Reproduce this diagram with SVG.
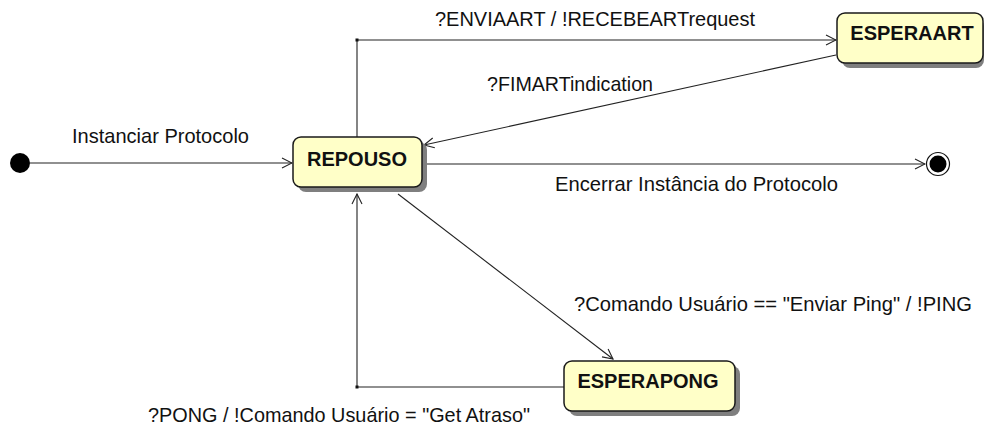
<svg xmlns="http://www.w3.org/2000/svg" width="988" height="427" viewBox="0 0 988 427">
<defs>
<marker id="open" viewBox="0 0 12 12" refX="11" refY="6" markerWidth="12" markerHeight="12" markerUnits="userSpaceOnUse" orient="auto">
<polyline points="1,1 11,6 1,11" fill="none" stroke="#222" stroke-width="1.1"/>
</marker>
</defs>
<style>
.box{fill:#ffffc8;stroke:#1a1a1a;stroke-width:1.5}
.shadow{fill:#7f7f7f}
.name{font-family:"Liberation Sans",Arial,sans-serif;font-weight:bold;font-size:20px;fill:#111;text-anchor:middle}
.lbl{font-family:"Liberation Sans",Arial,sans-serif;font-size:19.8px;fill:#111}
.edge{fill:none;stroke:#222;stroke-width:1.1}
</style>
<rect width="988" height="427" fill="#fff"/>
<g id="connectors">
<line class="edge" x1="30" y1="163" x2="292" y2="163" marker-end="url(#open)"/>
<polyline class="edge" points="357,137 357,40 836,40" marker-end="url(#open)"/>
<rect x="355.5" y="38.5" width="3" height="3" fill="#111"/>
<line class="edge" x1="836" y1="55" x2="424" y2="145" marker-end="url(#open)"/>
<line class="edge" x1="422" y1="164" x2="925" y2="164" marker-end="url(#open)"/>
<line class="edge" x1="398" y1="194" x2="613" y2="359" marker-end="url(#open)"/>
<polyline class="edge" points="564,387 357,387 357,194" marker-end="url(#open)"/>
<rect x="355.5" y="385.5" width="3" height="3" fill="#111"/>
<text class="lbl" x="72" y="143" textLength="177" lengthAdjust="spacingAndGlyphs">Instanciar Protocolo</text>
<text class="lbl" x="435" y="26" textLength="320" lengthAdjust="spacingAndGlyphs">?ENVIAART / !RECEBEARTrequest</text>
<text class="lbl" x="487" y="91" textLength="166" lengthAdjust="spacingAndGlyphs">?FIMARTindication</text>
<text class="lbl" x="555" y="191" textLength="283" lengthAdjust="spacingAndGlyphs">Encerrar Instância do Protocolo</text>
<text class="lbl" x="574" y="311" textLength="398" lengthAdjust="spacingAndGlyphs">?Comando Usuário == "Enviar Ping" / !PING</text>
<text class="lbl" x="148" y="422" textLength="382" lengthAdjust="spacingAndGlyphs">?PONG / !Comando Usuário = "Get Atraso"</text>
</g>
<g id="initial">
<circle cx="20" cy="163" r="10" fill="#000"/>
</g>
<g id="final">
<circle cx="938" cy="164" r="11.5" fill="#fff" stroke="#111" stroke-width="1.2"/>
<circle cx="938" cy="164" r="8.5" fill="#000"/>
</g>
<g id="REPOUSO">
<rect class="shadow" x="298" y="142" width="129" height="50" rx="8"/>
<rect class="box" x="293" y="137" width="129" height="50" rx="8"/>
<text class="name" x="357" y="166">REPOUSO</text>
</g>
<g id="ESPERAART">
<rect class="shadow" x="842" y="18" width="142" height="50" rx="8"/>
<rect class="box" x="837" y="13" width="146" height="50" rx="8"/>
<text class="name" x="912" y="40">ESPERAART</text>
</g>
<g id="ESPERAPONG">
<rect class="shadow" x="569" y="366" width="171" height="50" rx="8"/>
<rect class="box" x="564" y="361" width="171" height="50" rx="8"/>
<text class="name" x="648" y="388">ESPERAPONG</text>
</g>
</svg>
